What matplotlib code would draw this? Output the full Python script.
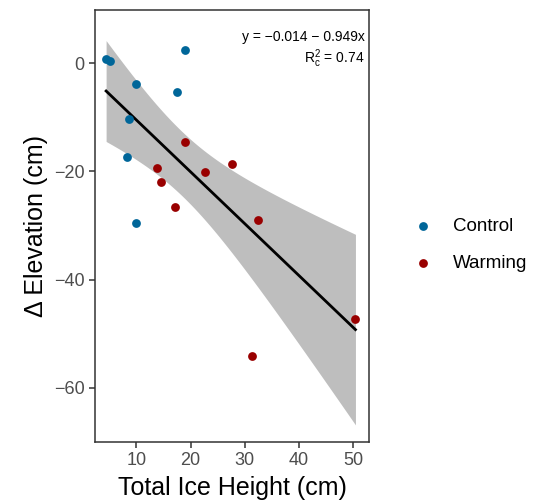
import numpy as np
import matplotlib.pyplot as plt

plt.rcParams['font.family'] = ['Liberation Sans', 'DejaVu Sans']

# data
control_x = [4.4, 5.1, 18.9, 9.9, 17.5, 8.6, 8.3, 9.9]
control_y = [0.8, 0.4, 2.4, -3.8, -5.4, -10.4, -17.4, -29.5]
warming_x = [18.9, 27.6, 22.6, 13.7, 14.5, 17.2, 32.4, 50.4, 31.4]
warming_y = [-14.5, -18.7, -20.1, -19.3, -22.0, -26.6, -29.0, -47.2, -54.1]

eq_text = 'y = \u22120.014 \u2212 0.949x'
r2_text = '$\\mathregular{R^2_c}$ = 0.74'

c_col = '#006699'
w_col = '#990000'

x = np.array(control_x + warming_x)
y = np.array(control_y + warming_y)
n = len(x)
b1, b0 = np.polyfit(x, y, 1)
resid = y - (b0 + b1 * x)
s = np.sqrt(np.sum(resid ** 2) / (n - 2))
t = 2.131  # t(0.975, df=15)
xs = np.linspace(x.min(), x.max(), 80)
fit = b0 + b1 * xs
se = s * np.sqrt(1.0 / n + (xs - x.mean()) ** 2 / np.sum((x - x.mean()) ** 2))

fig = plt.figure(figsize=(5.37, 5.03), dpi=100)
ax = fig.add_axes([95 / 537, 61 / 503, 274 / 537, 432 / 503])

ax.fill_between(xs, fit - t * se, fit + t * se, color='#bebebe', lw=0, zorder=1)
ax.plot(xs, fit, color='black', lw=2, zorder=2)
ax.scatter(control_x, control_y, s=40, color=c_col, lw=0, zorder=3, label='Control')
ax.scatter(warming_x, warming_y, s=40, color=w_col, lw=0, zorder=3, label='Warming')

ax.set_xlim(2.35, 52.9)
ax.set_ylim(-70.0, 9.8)
ax.set_xticks([10, 20, 30, 40, 50])
ax.set_yticks([0, -20, -40, -60])
ax.set_yticklabels(['0', '\u221220', '\u221240', '\u221260'])

for sp in ax.spines.values():
    sp.set_color('#333333')
    sp.set_linewidth(1.1)
ax.tick_params(colors='#333333', labelcolor='#4d4d4d', labelsize=13,
               length=4, width=1.1)

ax.set_xlabel('Total Ice Height (cm)', fontsize=18, labelpad=5)
ax.set_ylabel('\u0394 Elevation (cm)', fontsize=18, labelpad=4)

ax.text(0.985, 0.9375, eq_text, transform=ax.transAxes, ha='right', va='center', fontsize=10)
ax.text(0.985, 0.888, r2_text, transform=ax.transAxes, ha='right', va='center', fontsize=10)

fig.legend(loc='center left', bbox_to_anchor=(395 / 537, 1 - 245 / 503), frameon=False,
           fontsize=13.5, handletextpad=1.0, labelspacing=1.05, markerscale=1.0,
           handlelength=1.2)

fig.savefig('out.png', dpi=100)
